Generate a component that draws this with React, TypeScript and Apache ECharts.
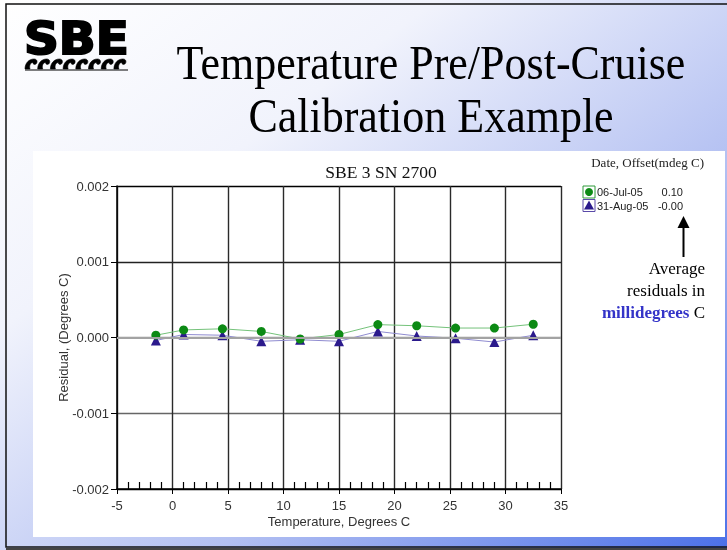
import React, { useEffect, useRef } from 'react';
import * as echarts from 'echarts';

// ---- data ----
const temperatures = [-1.5, 1.0, 4.5, 8.0, 11.5, 15.0, 18.5, 22.0, 25.5, 29.0, 32.5];
const residualsJul = [0.00003, 0.0001, 0.000115, 0.00008, -0.00002, 0.00004, 0.00017, 0.000155, 0.000125, 0.000125, 0.000175];
const residualsAug = [-0.00004, 0.00004, 0.00003, -0.00005, -0.00003, -0.00005, 0.00008, 0.00002, -0.00001, -0.00006, 0.00003];
const xRange = [-5, 35];
const xStep = 5;
const yRange = [-0.002, 0.002];
const yStep = 0.001;
const legendDates = ['06-Jul-05', '31-Aug-05'];
const legendOffsets = ['0.10', '-0.00'];
const slideTitle = ['Temperature Pre/Post-Cruise', 'Calibration Example'];
const chartTitle = 'SBE 3 SN 2700';
const legendHeader = 'Date, Offset(mdeg C)';
const logoText = 'SBE';
const noteLines = ['Average', 'residuals in'];
const noteBlue = 'millidegrees';
const noteTail = ' C';
const xName = 'Temperature, Degrees C';
const yName = 'Residual, (Degrees C)';

// decorative wave row of the logo
function buildWaves(n: number, w: number): string {
  let d = '';
  for (let i = 0; i < n; i++) {
    const x = i * w;
    d += `M${x},11 C${x},5 ${x + 4},1 ${x + 9},1 C${x + 12},1 ${x + 13},4 ${x + 11},6 C${x + 9.5},7 ${x + 7.5},6 ${x + 8},4.5 C${x + 5.5},4.5 ${x + 4},7.5 ${x + 5},11 Z `;
  }
  return d;
}
echarts.graphic.registerShape('sbewaves', echarts.graphic.extendPath(buildWaves(8, 12.7), {}));

const SERIF = 'Liberation Serif';
const SANS = 'Liberation Sans';

export default function App() {
  const ref = useRef<HTMLDivElement>(null);
  useEffect(() => {
    if (!ref.current) return;
    const chart = echarts.init(ref.current, undefined, { renderer: 'svg' });
    const axisFont = { fontFamily: SANS, fontSize: 13, color: '#333' };
    const option: any = {
      animation: false,
      grid: { left: 117, right: 166, top: 186, bottom: 61, containLabel: false },
      xAxis: [
        {
          type: 'value', min: xRange[0], max: xRange[1], interval: xStep,
          name: xName, nameLocation: 'middle', nameGap: 26, nameMoveOverlap: false,
          nameTextStyle: { ...axisFont },
          axisLine: { onZero: false, lineStyle: { color: '#000', width: 1.5 } },
          axisTick: { show: true, length: 5, lineStyle: { color: '#000' } },
          axisLabel: { ...axisFont, margin: 10 },
          splitLine: { show: true, lineStyle: { color: '#2a2a2a', width: 1.4 } },
        },
        {
          type: 'value', min: xRange[0], max: xRange[1], interval: xStep, position: 'bottom',
          axisLine: { show: false, onZero: false },
          axisTick: { show: false, inside: true },
          minorTick: { show: true, splitNumber: 5, length: 7, lineStyle: { color: '#000', width: 1.2 } },
          axisLabel: { show: false },
          splitLine: { show: false },
        },
      ],
      yAxis: {
        type: 'value', min: yRange[0], max: yRange[1], interval: yStep,
        name: yName, nameLocation: 'middle', nameGap: 47, nameMoveOverlap: false,
        nameTextStyle: { ...axisFont },
        axisLine: { onZero: false, lineStyle: { color: '#000', width: 1.5 } },
        axisTick: { show: true, length: 6, lineStyle: { color: '#000' } },
        axisLabel: { ...axisFont, margin: 8, formatter: (v: number) => v.toFixed(3) },
        splitLine: { show: true, lineStyle: { color: ['#000', '#666', '#999', '#222', '#000'], width: 1.3 } },
      },
      series: [
        {
          type: 'line', name: legendDates[1],
          data: temperatures.map((t, i) => [t, residualsAug[i]]),
          symbol: 'triangle', symbolSize: 10,
          itemStyle: { color: '#2b1a8c' },
          lineStyle: { color: '#8f8bd0', width: 1 },
          z: 3,
          markLine: {
            silent: true, symbol: 'none', label: { show: false },
            lineStyle: { color: '#a3a3a3', width: 2, type: 'solid' },
            data: [{ yAxis: 0 }],
          },
        },
        {
          type: 'line', name: legendDates[0],
          data: temperatures.map((t, i) => [t, residualsJul[i]]),
          symbol: 'circle', symbolSize: 9,
          itemStyle: { color: '#0c8a14' },
          lineStyle: { color: '#74c27a', width: 1 },
          z: 4,
        },
      ],
      graphic: [
        {
          type: 'rect', z: -100, silent: true,
          shape: { x: 0, y: 0, width: 727, height: 550 },
          style: {
            fill: new echarts.graphic.LinearGradient(0, 0, 1, 1, [
              { offset: 0, color: '#ffffff' },
              { offset: 0.3, color: '#f1f3fc' },
              { offset: 0.65, color: '#b3c0f2' },
              { offset: 1, color: '#4b70e8' },
            ]),
          },
        },
        {
          type: 'rect', z: -99, silent: true,
          shape: { x: 6, y: 4, width: 740, height: 543 },
          style: { fill: 'none', stroke: '#111', lineWidth: 1.5 },
        },
        {
          type: 'line', z: -99, silent: true,
          shape: { x1: 6, y1: 549, x2: 727, y2: 549 },
          style: { stroke: '#444', lineWidth: 2 },
        },
        {
          type: 'rect', z: -98, silent: true,
          shape: { x: 33, y: 151, width: 692, height: 386 },
          style: { fill: '#ffffff' },
        },
        // logo
        {
          type: 'text', z: 10, x: 24, y: 39,
          style: {
            text: logoText, fill: '#000', stroke: '#000', lineWidth: 2,
            fontFamily: 'DejaVu Sans', fontWeight: 900, fontSize: 44,
            textAlign: 'left', align: 'left', textVerticalAlign: 'middle', verticalAlign: 'middle',
          },
          scaleX: 1.1,
        },
        {
          type: 'sbewaves', z: 10, x: 25, y: 58, scaleX: 1, scaleY: 1,
          style: { fill: '#000', stroke: '#000', lineWidth: 0.6 },
        },
        {
          type: 'line', z: 10, silent: true,
          shape: { x1: 25, y1: 70, x2: 128, y2: 70 },
          style: { stroke: '#000', lineWidth: 1 },
        },
        // slide title
        ...slideTitle.map((t, i) => ({
          type: 'text', z: 10, x: 431, y: 63 + i * 53, scaleY: 1.08,
          style: {
            text: t, fill: '#000', fontFamily: SERIF, fontSize: 44,
            textAlign: 'center', align: 'center', textVerticalAlign: 'middle', verticalAlign: 'middle',
          },
        })),
        // chart title
        {
          type: 'text', z: 10, x: 381, y: 172,
          style: {
            text: chartTitle, fill: '#111', fontFamily: SERIF, fontSize: 17.5,
            textAlign: 'center', align: 'center', textVerticalAlign: 'middle', verticalAlign: 'middle',
          },
        },
        // legend
        {
          type: 'text', z: 10, x: 704, y: 162,
          style: {
            text: legendHeader, fill: '#222', fontFamily: SERIF, fontSize: 13,
            textAlign: 'right', align: 'right', textVerticalAlign: 'middle', verticalAlign: 'middle',
          },
        },
        {
          type: 'rect', z: 10, shape: { x: 583, y: 186, width: 12, height: 12 },
          style: { fill: '#fff', stroke: '#2e9a3a', lineWidth: 1 },
        },
        {
          type: 'circle', z: 11, shape: { cx: 589, cy: 192, r: 4 },
          style: { fill: '#0c8a14' },
        },
        {
          type: 'rect', z: 10, shape: { x: 583, y: 199.5, width: 12, height: 12 },
          style: { fill: '#fff', stroke: '#5a4aa8', lineWidth: 1 },
        },
        {
          type: 'polygon', z: 11, shape: { points: [[589, 200.5], [594, 209.5], [584, 209.5]] },
          style: { fill: '#2b1a8c' },
        },
        ...legendDates.map((d, i) => ({
          type: 'text', z: 10, x: 597, y: 192 + i * 14,
          style: {
            text: d, fill: '#222', fontFamily: SANS, fontSize: 11,
            textAlign: 'left', align: 'left', textVerticalAlign: 'middle', verticalAlign: 'middle',
          },
        })),
        ...legendOffsets.map((d, i) => ({
          type: 'text', z: 10, x: 683, y: 192 + i * 14,
          style: {
            text: d, fill: '#222', fontFamily: SANS, fontSize: 11,
            textAlign: 'right', align: 'right', textVerticalAlign: 'middle', verticalAlign: 'middle',
          },
        })),
        // arrow
        {
          type: 'line', z: 10, shape: { x1: 683.5, y1: 224, x2: 683.5, y2: 257 },
          style: { stroke: '#000', lineWidth: 2 },
        },
        {
          type: 'polygon', z: 10, shape: { points: [[683.5, 216], [689.5, 228], [677.5, 228]] },
          style: { fill: '#000' },
        },
        // annotation
        ...noteLines.map((t, i) => ({
          type: 'text', z: 10, x: 705, y: 268 + i * 22,
          style: {
            text: t, fill: '#000', fontFamily: SERIF, fontSize: 17,
            textAlign: 'right', align: 'right', textVerticalAlign: 'middle', verticalAlign: 'middle',
          },
        })),
        {
          type: 'text', z: 10, x: 705, y: 312,
          style: {
            text: `{b|${noteBlue}}${noteTail}`, fill: '#000', fontFamily: SERIF, fontSize: 17,
            textAlign: 'right', align: 'right', textVerticalAlign: 'middle', verticalAlign: 'middle',
            rich: { b: { fill: '#3434c8', fontWeight: 'bold', fontFamily: SERIF, fontSize: 17 } },
          },
        },
      ],
    };
    chart.setOption(option);
    return () => chart.dispose();
  }, []);
  return (
    <div
      ref={ref}
      style={{ position: 'fixed', left: 0, top: 0, width: 727, height: 550 }}
    />
  );
}
